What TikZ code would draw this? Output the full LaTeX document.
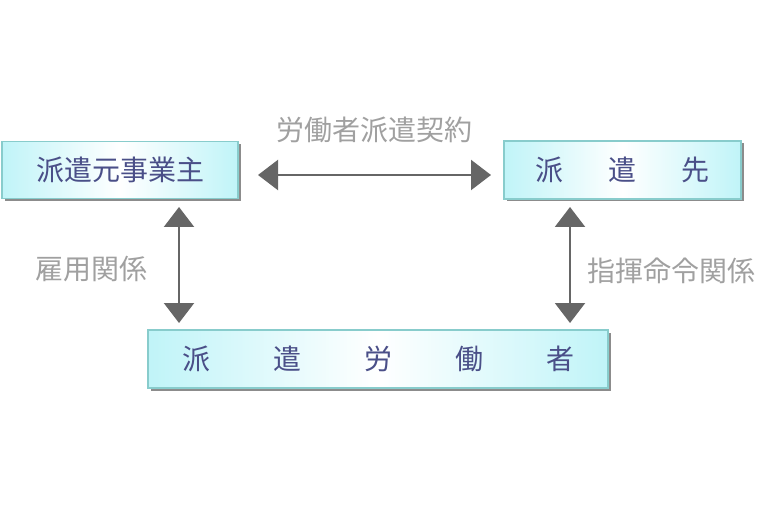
\documentclass[tikz,border=0pt]{standalone}
\usepackage{fontspec}
\setmainfont{Noto Sans CJK JP}
\usetikzlibrary{shadows,arrows.meta}
\definecolor{boxline}{HTML}{88CCCC}
\definecolor{boxfill}{HTML}{C0F4F8}
\definecolor{boxtext}{HTML}{4A4F88}
\definecolor{labeltext}{HTML}{A0A0A0}
\definecolor{arrowline}{HTML}{666666}
\tikzset{
	partybox/.style={draw=boxline, line width=1.2pt, left color=boxfill, right color=boxfill, middle color=white,
		drop shadow={shadow xshift=2.5pt, shadow yshift=-2.5pt, fill=black!45, opacity=1},
		inner sep=0pt, text=boxtext, font=\fontsize{28}{32}\selectfont},
	relation/.style={text=labeltext, font=\fontsize{28}{32}\selectfont},
	tworoad/.style={draw=arrowline, line width=2.2pt, {Triangle[length=20pt,width=30pt]}-{Triangle[length=20pt,width=30pt]}}
}
\begin{document}
\begin{tikzpicture}[x=1pt,y=-1pt]
	\useasboundingbox (0,0) rectangle (770,510);
	\node[partybox, minimum width=236pt, minimum height=57pt] (dispatcher) at (120,170) {派遣元事業主\hspace{6pt}};
	\node[partybox, minimum width=237pt, minimum height=58pt] (client) at (622.5,170) {派\hspace{45pt}遣\hspace{45pt}先};
	\node[partybox, minimum width=460pt, minimum height=58pt] (worker) at (378,359) {派\hspace{63pt}遣\hspace{63pt}労\hspace{63pt}働\hspace{63pt}者\hspace{5pt}};
	\coordinate (contractL) at (258,175);
	\coordinate (contractR) at (491,175);
	\coordinate (employT) at (179,207);
	\coordinate (employB) at (179,323);
	\coordinate (commandT) at (570,207);
	\coordinate (commandB) at (570,323);
	\draw[tworoad] (contractL) -- (contractR);
	\draw[tworoad] (employT) -- (employB);
	\draw[tworoad] (commandT) -- (commandB);
	\node[relation] (contract) at (374,130) {労働者派遣契約};
	\node[relation] (employ) at (91,269) {雇用関係};
	\node[relation] (command) at (671,271) {指揮命令関係};
\end{tikzpicture}
\end{document}
